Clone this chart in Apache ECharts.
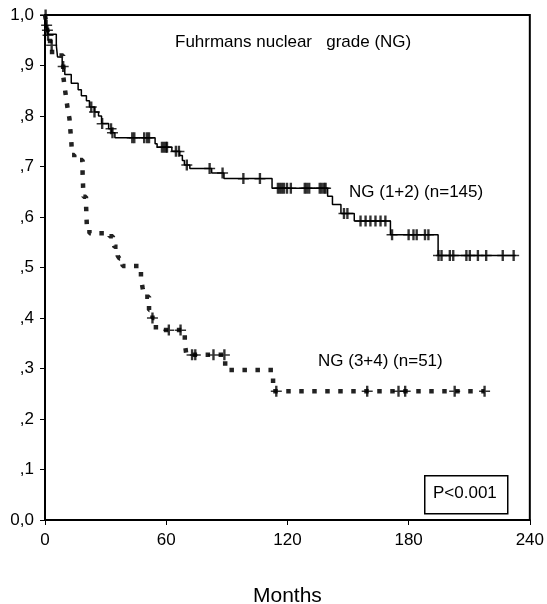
<!DOCTYPE html>
<html>
<head>
<meta charset="utf-8">
<script src="https://cdn.jsdelivr.net/npm/echarts@6/dist/echarts.min.js"></script>
<style>
  html, body { margin: 0; padding: 0; background: #fff; }
  #chart { width: 547px; height: 604px; }
</style>
</head>
<body>
<div id="chart"></div>
<script>
// NG (1+2): KM step points, months / survival
const ng12Times = [0, 0.6, 1.0, 1.5, 5.6, 6.2, 8.5, 9.8, 13, 16.4, 18, 20.5, 22, 24.5, 26.5, 28, 31.5, 33, 34.6,
  54.5, 55.5, 62.8, 66.7, 68, 69, 71.7, 82.5, 88.6, 112.4, 139.9, 142.3, 146.5, 153.1, 171, 194.6, 233]
const ng12Surv = [1.0, 0.98, 0.97, 0.962, 0.94, 0.917, 0.898, 0.882, 0.865, 0.852, 0.84, 0.83, 0.818, 0.808, 0.80, 0.785, 0.775, 0.767, 0.757,
  0.745, 0.738, 0.73, 0.722, 0.712, 0.703, 0.696, 0.687, 0.676, 0.657, 0.641, 0.625, 0.607, 0.592, 0.565, 0.524, 0.524]
// censored cases (months)
const ng12Censored = [0.3, 0.8, 1.2, 9.0, 22.9, 24.5, 28.3, 32.7, 33.4, 43.2, 44.2, 49.1, 50.5, 51.5, 57.9, 58.9, 59.9, 60.4,
  64.8, 66.3, 70.2, 81.5, 87.9, 98.2, 106.4, 115.3, 116.3, 117.3, 118.3, 119.8, 121.7, 128.6, 129.6, 130.8,
  136, 137, 138.2, 138.9, 148, 149.7, 156.2, 158.7, 161.1, 163.6, 166.1, 168.5, 171.8, 180, 182.4, 184, 188.1, 189.8,
  194.8, 196.3, 200.4, 202.1, 208.6, 210.3, 214.3, 218.4, 226.6, 232]

// NG (3+4)
const ng34Times = [0, 0.8, 1.5, 2.5, 3.5, 9, 9.8, 10.5, 11.3, 12.1, 12.6, 13.1, 13.3, 14.5, 18.6, 18.8, 19, 20.3, 20.5, 20.7, 22,
  31.9, 33.6, 34.4, 36, 36.8, 38.4, 47.5, 48.3, 49.1, 51.5, 53.2, 54.9, 69.2, 70, 89.2, 112.9, 217.6]
const ng34Surv = [1.0, 0.98, 0.96, 0.94, 0.92, 0.88, 0.855, 0.835, 0.812, 0.795, 0.77, 0.745, 0.723, 0.713, 0.687, 0.667, 0.64, 0.627, 0.604, 0.584, 0.568,
  0.562, 0.55, 0.541, 0.523, 0.518, 0.503, 0.479, 0.46, 0.442, 0.416, 0.40, 0.376, 0.35, 0.327, 0.297, 0.255, 0.255]
const ng34Censored = [1.5, 3.3, 53.2, 61.3, 67.1, 72.8, 74.4, 83.4, 88.8, 114.5, 159.5, 175, 178.3, 202.8, 217.6]

const xTicks = [0, 60, 120, 180, 240]
const yTicks = ['0,0', ',1', ',2', ',3', ',4', ',5', ',6', ',7', ',8', ',9', '1,0']

const FONT = 'Liberation Sans'
const plusSymbol = 'path://M4,0h2.2v11h-2.2z M0,4.8h10.2v1.5h-10.2z'

// survival value of a step curve at time t
function survAt(times, surv, t) {
  let s = surv[0]
  for (let i = 0; i < times.length; i++) {
    if (times[i] <= t) s = surv[i]
  }
  return s
}

const ng12Line = ng12Times.map((t, i) => [t, ng12Surv[i]])
const ng34Line = ng34Times.map((t, i) => [t, ng34Surv[i]])
const ng12Marks = ng12Censored.map(t => [t, survAt(ng12Times, ng12Surv, t)])
const ng34Marks = ng34Censored.map(t => [t, survAt(ng34Times, ng34Surv, t)])

const chart = echarts.init(document.getElementById('chart'))

chart.setOption({
  animation: false,
  grid: {
    left: 45,
    right: 13,
    top: 15,
    bottom: 84,
    show: true,
    borderColor: '#000',
    borderWidth: 2
  },
  xAxis: {
    type: 'value',
    min: 0,
    max: 240,
    interval: 60,
    axisLine: { lineStyle: { color: '#000', width: 2 } },
    axisTick: { length: 5, lineStyle: { color: '#000' } },
    splitLine: { show: false },
    axisLabel: {
      color: '#000', fontFamily: FONT, fontSize: 17, margin: 12,
      formatter: v => xTicks.includes(v) ? String(v) : ''
    }
  },
  yAxis: {
    type: 'value',
    min: 0,
    max: 1,
    interval: 0.1,
    axisLine: { lineStyle: { color: '#000', width: 2 } },
    axisTick: { length: 5, lineStyle: { color: '#000' } },
    splitLine: { show: false },
    axisLabel: {
      color: '#000', fontFamily: FONT, fontSize: 17, margin: 11,
      formatter: v => yTicks[Math.round(v * 10)]
    }
  },
  series: [
    {
      name: 'NG (1+2)',
      type: 'line',
      step: 'end',
      data: ng12Line,
      symbol: 'none',
      lineStyle: { color: '#000', width: 1.5 }
    },
    {
      name: 'NG (3+4)',
      type: 'line',
      step: 'end',
      data: ng34Line,
      symbol: 'none',
      lineStyle: { color: '#222', width: 4.5, type: [4.5, 8.5], cap: 'butt' }
    },
    {
      type: 'scatter',
      data: ng12Marks,
      symbol: plusSymbol,
      symbolSize: [11, 11],
      itemStyle: { color: '#000' },
      z: 3
    },
    {
      type: 'scatter',
      data: ng34Marks,
      symbol: plusSymbol,
      symbolSize: [11, 11],
      itemStyle: { color: '#000' },
      z: 3
    }
  ],
  graphic: [
    {
      type: 'text', left: 175, top: 34,
      style: { text: 'Fuhrmans nuclear   grade (NG)', font: '17px "Liberation Sans"', fill: '#000' }
    },
    {
      type: 'text', left: 349, top: 184,
      style: { text: 'NG (1+2) (n=145)', font: '17px "Liberation Sans"', fill: '#000' }
    },
    {
      type: 'text', left: 318, top: 353,
      style: { text: 'NG (3+4) (n=51)', font: '17px "Liberation Sans"', fill: '#000' }
    },
    {
      type: 'rect', left: 424, top: 475,
      shape: { width: 83, height: 38 },
      style: { fill: '#fff', stroke: '#000', lineWidth: 1.5 }
    },
    {
      type: 'text', left: 433, top: 485,
      style: { text: 'P<0.001', font: '17px "Liberation Sans"', fill: '#000' }
    },
    {
      type: 'text', left: 253, top: 586,
      style: { text: 'Months', font: '21px "Liberation Sans"', fill: '#000' }
    }
  ]
})
</script>
</body>
</html>
